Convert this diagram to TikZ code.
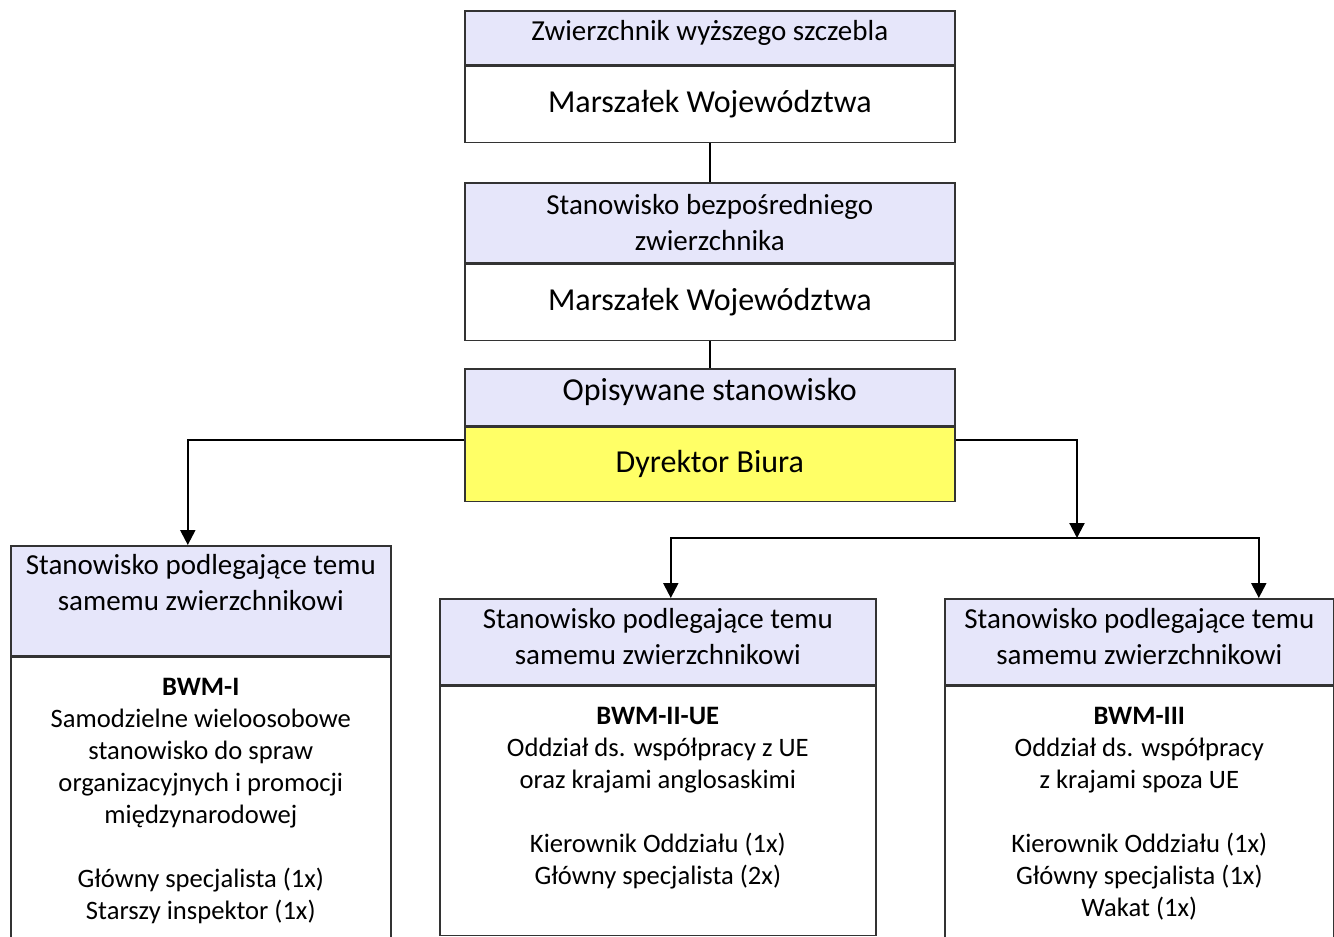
\documentclass[tikz,border=0pt]{standalone}
\usepackage{fontspec}
\setmainfont{Carlito}
\usetikzlibrary{positioning,arrows.meta}

\definecolor{headblue}{HTML}{E6E6FA}
\definecolor{chiefyellow}{HTML}{FFFF66}
\definecolor{frame}{HTML}{333333}

% text of a lower box, set from the top
\newcommand{\cellbody}[3]{\parbox[c][#2][t]{#1}{\centering\vspace{10.5pt}#3}}

\begin{document}
\begin{tikzpicture}[x=0.5pt,y=-0.5pt,
	cell/.style={draw=frame, line width=0.8pt, inner sep=0pt, align=center},
	head/.style={cell, fill=headblue, font=\fontsize{14.5}{18}\selectfont},
	holder/.style={cell, fill=white, font=\fontsize{16}{19}\selectfont},
	bodybox/.style={cell, fill=white, font=\fontsize{13.3}{16}\selectfont},
	lift/.style={text depth=#1},
	lift/.default=7.5pt,
	link/.style={line width=1.1pt, black},
	arr/.style={link, -{Triangle[width=7.5pt,length=7.5pt]}}
	]
	
	\useasboundingbox (0,0) rectangle (1334,937);
	\clip (0,0) rectangle (1334,937);
	
	% upper chain
	\node[head, lift, anchor=north west, minimum width=245pt, minimum height=27pt] (zwH) at (464,10) {Zwierzchnik wyższego szczebla};
	\node[holder, below=0pt of zwH, minimum width=245pt, minimum height=38pt] (zwB) {Marszałek Województwa};
	
	\node[head, anchor=north west, minimum width=245pt, minimum height=40pt] (bzH) at (464,182) {Stanowisko bezpośredniego\\zwierzchnika};
	\node[holder, below=0pt of bzH, minimum width=245pt, minimum height=38pt] (bzB) {Marszałek Województwa};
	
	\node[head, lift, font=\fontsize{16}{19}\selectfont, anchor=north west, minimum width=245pt, minimum height=28.5pt] (opH) at (464,368) {Opisywane stanowisko};
	\node[holder, fill=chiefyellow, below=0pt of opH, minimum width=245pt, minimum height=37pt] (dyr) {Dyrektor Biura};
	
	% lower boxes
	\node[head, anchor=north west, minimum width=190pt, minimum height=55pt] (bwm1H) at (10,545) {Stanowisko podlegające temu\\samemu zwierzchnikowi\\\mbox{}};
	\node[bodybox, below=0pt of bwm1H] (bwm1B) {\cellbody{190pt}{160pt}{\textbf{BWM-I}\\Samodzielne wieloosobowe\\stanowisko do spraw\\organizacyjnych i promocji\\międzynarodowej\\[16pt]Główny specjalista (1x)\\Starszy inspektor (1x)}};
	
	\node[head, lift=5.5pt, anchor=north west, minimum width=218pt, minimum height=43pt] (bwm2H) at (439,598) {Stanowisko podlegające temu\\samemu zwierzchnikowi};
	\node[bodybox, below=0pt of bwm2H] (bwm2B) {\cellbody{218pt}{124.5pt}{\textbf{BWM-II-UE}\\Oddział ds. współpracy z UE\\oraz krajami anglosaskimi\\[16pt]Kierownik Oddziału (1x)\\Główny specjalista (2x)}};
	
	\node[head, lift=5.5pt, anchor=north west, minimum width=194.5pt, minimum height=43pt] (bwm3H) at (944,598) {Stanowisko podlegające temu\\samemu zwierzchnikowi};
	\node[bodybox, below=0pt of bwm3H] (bwm3B) {\cellbody{194.5pt}{160pt}{\textbf{BWM-III}\\Oddział ds. współpracy\\z krajami spoza UE\\[16pt]Kierownik Oddziału (1x)\\Główny specjalista (1x)\\Wakat (1x)}};
	
	% connectors
	\coordinate (split) at (1077,538);
	\draw[link] (zwB) -- (bzH);
	\draw[link] (bzB) -- (opH);
	\draw[arr] ([yshift=-6.5pt]dyr.north west) -| ([xshift=-6.5pt]bwm1H.north);
	\draw[arr] ([yshift=-6.5pt]dyr.north east) -| (split);
	\draw[arr] (split) -| ([xshift=6.5pt]bwm2H.north);
	\draw[arr] (split) -| ([xshift=59.75pt]bwm3H.north);
	
\end{tikzpicture}
\end{document}
